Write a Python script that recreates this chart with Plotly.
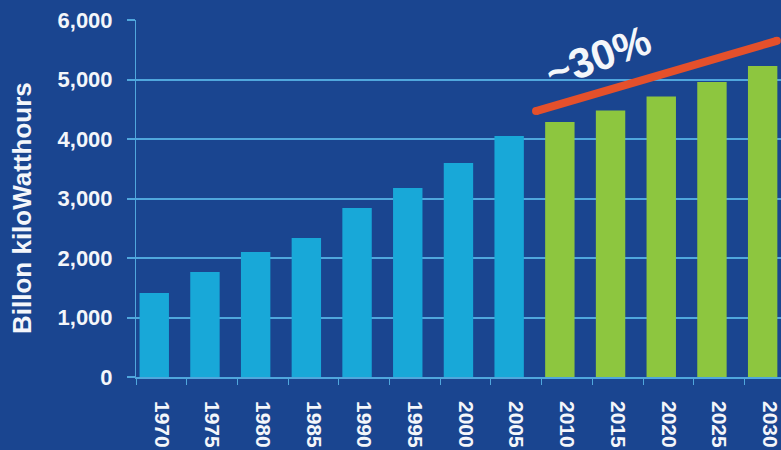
import plotly.graph_objects as go

# Electricity consumption, billion kWh (historical and projected)
hist_years = [1970, 1975, 1980, 1985, 1990, 1995, 2000, 2005]
hist_values = [1410, 1765, 2100, 2335, 2840, 3175, 3595, 4050]
proj_years = [2010, 2015, 2020, 2025, 2030]
proj_values = [4285, 4480, 4715, 4960, 5225]
tick_years = hist_years + proj_years
tick_labels = [str(y) for y in tick_years]
y_ticks = [0, 1000, 2000, 3000, 4000, 5000, 6000]
y_tick_labels = ["0", "1,000", "2,000", "3,000", "4,000", "5,000", "6,000"]

# Growth trend over the projection period
trend_x = [2006.95, 2030.7]
trend_y = [4470, 5650]
trend_label = "~30%"

BG = "#1A4590"
GRID = "rgba(90,185,235,0.85)"
CYAN = "#18A8D8"
GREEN = "#8DC63F"
RED = "#E4502B"
WHITE = "#F4F6FA"
FONT = "Liberation Sans, Arial, sans-serif"
NARROW = "Liberation Sans Narrow, Arial Narrow, Liberation Sans, sans-serif"

step = 5
bar_w = step * 0.58
bar_off = -step * 0.43

fig = go.Figure()
fig.add_trace(go.Bar(x=hist_years, y=hist_values, width=bar_w, offset=bar_off,
                     marker=dict(color=CYAN, line=dict(width=0)), showlegend=False))
fig.add_trace(go.Bar(x=proj_years, y=proj_values, width=bar_w, offset=bar_off,
                     marker=dict(color=GREEN, line=dict(width=0)), showlegend=False))
fig.add_trace(go.Scatter(x=trend_x, y=trend_y, mode="lines+markers",
                         line=dict(color=RED, width=8),
                         marker=dict(color=RED, size=8, line=dict(width=0)),
                         cliponaxis=False, showlegend=False, hoverinfo="skip"))

boundaries = [y - step / 2 for y in tick_years] + [tick_years[-1] + step / 2]

fig.update_layout(
    width=781, height=450,
    margin=dict(l=136, r=0, t=20, b=73),
    paper_bgcolor=BG, plot_bgcolor=BG,
    barmode="overlay",
    font=dict(family=FONT, color=WHITE),
    xaxis=dict(
        range=[1967.5, 1967.5 + step * 645 / 50.7],
        tickmode="array", tickvals=tick_years, ticktext=tick_labels,
        tickangle=90, ticks="", showgrid=False, zeroline=False,
        tickfont=dict(family=FONT, size=21, color=WHITE, weight="bold"),
        ticklabelstandoff=18, ticklabeloverflow="allow",
        showline=True, linecolor=GRID, linewidth=1.5,
        minor=dict(tickmode="array", tickvals=boundaries, ticks="outside",
                   ticklen=6, tickcolor=GRID, tickwidth=1, showgrid=False),
    ),
    yaxis=dict(
        range=[0, 6000], tickmode="array", tickvals=y_ticks, ticktext=y_tick_labels,
        ticks="outside", ticklen=8, tickcolor=GRID, tickwidth=1.5,
        showgrid=True, gridcolor=GRID, gridwidth=1.5, zeroline=False,
        showline=True, linecolor=GRID, linewidth=1,
        tickfont=dict(family=FONT, size=22, color=WHITE, weight="bold"),
        ticklabelstandoff=10,
    ),
    annotations=[
        dict(text="Billon kiloWatthours", xref="paper", yref="paper",
             x=(22 - 136) / 645, y=(377 - 208) / 357, textangle=-90,
             showarrow=False, xanchor="center", yanchor="middle",
             font=dict(family=FONT, size=26, color=WHITE, weight="bold")),
        dict(text=trend_label, x=2013.1, y=5380, textangle=-20,
             showarrow=False, xanchor="center", yanchor="middle",
             font=dict(family=NARROW, size=42, color=WHITE, weight="bold")),
    ],
)

fig.write_html("out.html")
